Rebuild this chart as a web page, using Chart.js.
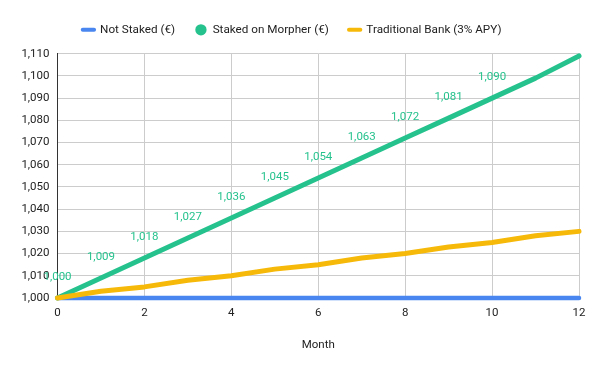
<!DOCTYPE html>
<html>
<head>
<meta charset="utf-8">
<script src="https://cdn.jsdelivr.net/npm/chart.js@4/dist/chart.umd.min.js"></script>
<style>
html,body{margin:0;padding:0;background:#fff;}
#wrap{width:600px;height:371px;position:relative;}
</style>
</head>
<body>
<div id="wrap"><canvas id="c" width="600" height="371"></canvas></div>
<script>
const months = [0,1,2,3,4,5,6,7,8,9,10,11,12];
const notStaked = [1000,1000,1000,1000,1000,1000,1000,1000,1000,1000,1000,1000,1000];
const stakedMorpher = [1000,1009,1018,1027,1036,1045,1054,1063,1072,1081,1090,1099,1109];
const traditionalBank = [1000,1003,1005,1008,1010,1013,1015,1018,1020,1023,1025,1028,1030];
const seriesNames = ['Not Staked (€)','Staked on Morpher (€)','Traditional Bank (3% APY)'];
const xTitle = 'Month';

const BLUE = '#4a86f0', GREEN = '#26c28d', YELLOW = '#f6b90a';
const FONT = 'Roboto, Arial, sans-serif';
const FS = 11.5;
const fmt = v => v.toLocaleString('en-US');

const toXY = arr => arr.map((v,i)=>({x:months[i], y:v}));

const labelPlugin = {
  id:'valueLabels',
  afterInit(chart){
    if (chart.legend) {
      const orig = chart.legend.fit;
      chart.legend.fit = function(){ orig.call(this); this.height += 8; };
    }
  },
  afterDatasetsDraw(chart){
    const ctx = chart.ctx;
    const meta = chart.getDatasetMeta(1);
    ctx.save();
    ctx.font = FS + 'px ' + FONT;
    ctx.fillStyle = GREEN;
    ctx.textAlign = 'center';
    ctx.textBaseline = 'middle';
    meta.data.forEach((pt,i)=>{
      if (i > 10) return;
      ctx.fillText(fmt(stakedMorpher[i]), pt.x, pt.y - 21);
    });
    ctx.restore();
  }
};

new Chart(document.getElementById('c'), {
  type:'line',
  data:{
    datasets:[
      {label:seriesNames[0], data:toXY(notStaked), borderColor:BLUE, backgroundColor:BLUE, borderWidth:4.5, pointRadius:0, order:2, clip:6},
      {label:seriesNames[1], data:toXY(stakedMorpher), borderColor:GREEN, backgroundColor:GREEN, borderWidth:5, pointRadius:0, order:1, clip:6},
      {label:seriesNames[2], data:toXY(traditionalBank), borderColor:YELLOW, backgroundColor:YELLOW, borderWidth:5, pointRadius:0, order:0, clip:6}
    ]
  },
  options:{
    responsive:false,
    animation:false,
    layout:{padding:{left:5, right:21, top:4, bottom:0}},
    elements:{line:{tension:0, borderCapStyle:'round', borderJoinStyle:'round'}},
    plugins:{
      tooltip:{enabled:false},
      legend:{
        position:'top',
        labels:{
          font:{family:FONT, size:11.7},
          color:'#222',
          usePointStyle:true,
          boxWidth:12, boxHeight:8,
          padding:20,
          generateLabels(chart){
            return chart.data.datasets.map((ds,i)=>({
              text: ds.label,
              fillStyle: ds.borderColor,
              strokeStyle: ds.borderColor,
              lineWidth: i===1 ? 0 : 4,
              lineCap: 'round',
              pointStyle: i===1 ? 'circle' : 'line',
              fontColor:'#222',
              hidden:false,
              datasetIndex:i
            }));
          }
        }
      }
    },
    scales:{
      x:{
        type:'linear', min:0, max:12,
        ticks:{stepSize:2, color:'#222', font:{family:FONT, size:FS}, padding:8},
        grid:{color:'#cccccc', drawTicks:false},
        border:{display:false},
        title:{display:true, text:xTitle, color:'#222', font:{family:FONT, size:FS}, padding:{top:10, bottom:19}},
        afterFit(s){ s.height = 73; }
      },
      y:{
        min:1000, max:1110,
        ticks:{stepSize:10, color:'#222', font:{family:FONT, size:FS}, padding:8, callback:v=>fmt(v)},
        grid:{color:'#cccccc', drawTicks:false},
        border:{display:true, color:'#333', width:1},
        afterFit(s){ s.width = 52.5; }
      }
    }
  },
  plugins:[labelPlugin]
});
</script>
</body>
</html>
